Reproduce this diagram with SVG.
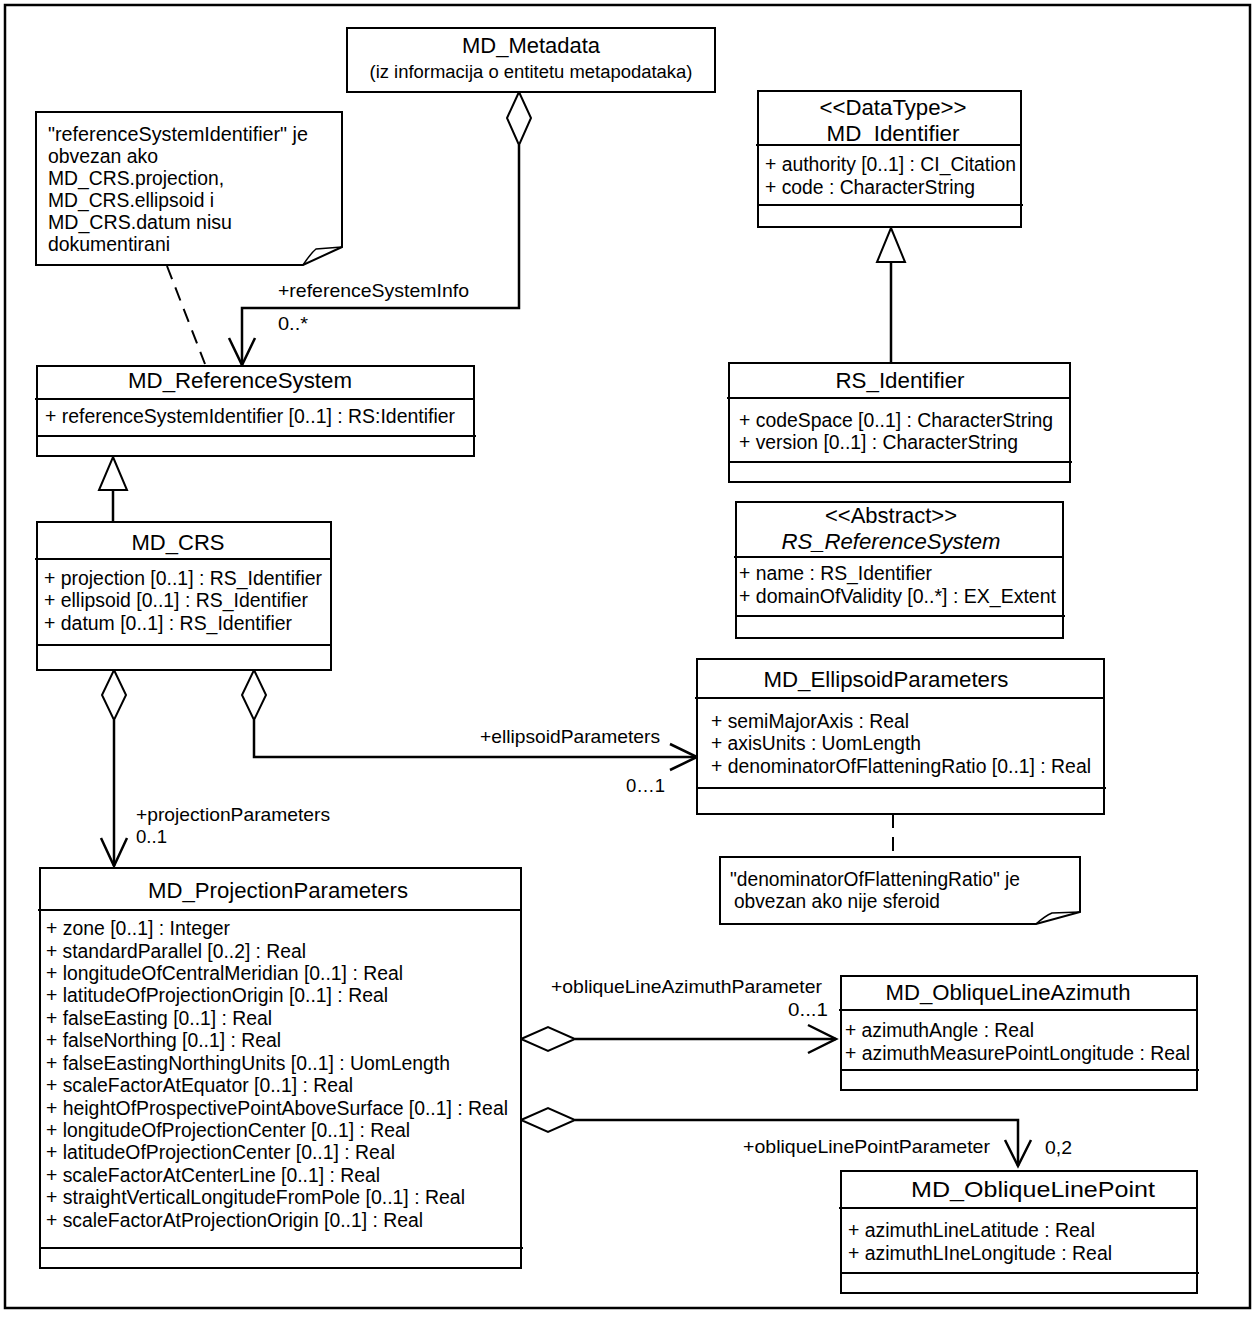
<svg xmlns="http://www.w3.org/2000/svg" width="1257" height="1317" viewBox="0 0 1257 1317">
<style>
.box{fill:#fff;stroke:#000;stroke-width:2}
.sep{stroke:#000;stroke-width:2}
.t{font-family:"Liberation Sans",Arial,sans-serif;fill:#000}
.title{font-size:22px;text-anchor:middle}
.attr{font-size:19.5px}
.lbl{font-size:19px}
.con{fill:none;stroke:#000;stroke-width:2.5}
.dash{fill:none;stroke:#000;stroke-width:2;stroke-dasharray:14,9}
.dia{fill:#fff;stroke:#000;stroke-width:2}
.tri{fill:#fff;stroke:#000;stroke-width:2}
</style>
<rect x="5" y="5" width="1245" height="1303" fill="#fff" stroke="#000" stroke-width="2.5"/>

<g id="connectors">
  <path class="dash" d="M167,266 L205,364"/>
  <path class="con" d="M519,145 V308 H242 V365"/>
  <path class="con" d="M229,338 L242,365 L255,338"/>
  <polygon class="dia" points="519,92 531,118 519,145 507,118"/>
  <text class="t lbl" x="278" y="297" textLength="191" lengthAdjust="spacingAndGlyphs">+referenceSystemInfo</text>
  <text class="t lbl" x="278" y="330" textLength="30" lengthAdjust="spacingAndGlyphs">0..*</text>
  <path class="con" d="M113,490 V522"/>
  <polygon class="tri" points="113,457 127,490 99,490"/>
  <path class="con" d="M891,262 V363"/>
  <polygon class="tri" points="891,228 905,262 877,262"/>
  <path class="con" d="M114,720 V866"/>
  <path class="con" d="M101,838 L114,866 L127,838"/>
  <polygon class="dia" points="114,670 126,695 114,720 102,695"/>
  <text class="t lbl" x="136" y="821" textLength="194" lengthAdjust="spacingAndGlyphs">+projectionParameters</text>
  <text class="t lbl" x="136" y="843" textLength="31" lengthAdjust="spacingAndGlyphs">0..1</text>
  <path class="con" d="M254,720 V757 H697"/>
  <path class="con" d="M670,744 L697,757 L670,770"/>
  <polygon class="dia" points="254,670 266,695 254,720 242,695"/>
  <text class="t lbl" x="480" y="743" textLength="180" lengthAdjust="spacingAndGlyphs">+ellipsoidParameters</text>
  <text class="t lbl" x="626" y="792" textLength="39" lengthAdjust="spacingAndGlyphs">0…1</text>
  <path class="dash" d="M893,814 V857"/>
  <path class="con" d="M575,1039 H836"/>
  <path class="con" d="M808,1025 L836,1039 L808,1053"/>
  <polygon class="dia" points="521,1039 548,1027 575,1039 548,1051"/>
  <text class="t lbl" x="551" y="993" textLength="271" lengthAdjust="spacingAndGlyphs">+obliqueLineAzimuthParameter</text>
  <text class="t lbl" x="788" y="1016" textLength="40" lengthAdjust="spacingAndGlyphs">0...1</text>
  <path class="con" d="M575,1120 H1018 V1166"/>
  <path class="con" d="M1005,1140 L1018,1166 L1031,1140"/>
  <polygon class="dia" points="521,1120 548,1108 575,1120 548,1132"/>
  <text class="t lbl" x="743" y="1153" textLength="247" lengthAdjust="spacingAndGlyphs">+obliqueLinePointParameter</text>
  <text class="t lbl" x="1045" y="1154" textLength="27" lengthAdjust="spacingAndGlyphs">0,2</text>
</g>

<g id="MD_Metadata">
  <rect class="box" x="347" y="28" width="368" height="64"/>
  <text class="t title" x="531" y="53" textLength="138" lengthAdjust="spacingAndGlyphs">MD_Metadata</text>
  <text class="t" x="531" y="78" font-size="18" text-anchor="middle" textLength="323" lengthAdjust="spacingAndGlyphs">(iz informacija o entitetu metapodataka)</text>
</g>

<g id="note_referenceSystem">
  <path class="box" d="M36,112 H342 V247 L303,265 H36 Z"/>
  <path fill="none" stroke="#000" stroke-width="1.5" d="M303,265 Q311,253 316,249 L342,247"/>
  <g class="t" font-size="19.5">
    <text x="48" y="141" textLength="260" lengthAdjust="spacingAndGlyphs">"referenceSystemIdentifier"  je</text>
    <text x="48" y="163" textLength="110" lengthAdjust="spacingAndGlyphs">obvezan ako</text>
    <text x="48" y="185" textLength="176" lengthAdjust="spacingAndGlyphs">MD_CRS.projection,</text>
    <text x="48" y="207" textLength="166" lengthAdjust="spacingAndGlyphs">MD_CRS.ellipsoid i</text>
    <text x="48" y="229" textLength="184" lengthAdjust="spacingAndGlyphs">MD_CRS.datum nisu</text>
    <text x="48" y="251" textLength="122" lengthAdjust="spacingAndGlyphs">dokumentirani</text>
  </g>
</g>

<g id="MD_Identifier">
  <rect class="box" x="758" y="91" width="263" height="136"/>
  <line class="sep" x1="756" y1="145" x2="1021" y2="145"/>
  <line class="sep" x1="758" y1="205" x2="1023" y2="205"/>
  <text class="t title" x="893" y="115" textLength="147" lengthAdjust="spacingAndGlyphs">&lt;&lt;DataType&gt;&gt;</text>
  <text class="t title" x="893" y="141" textLength="133" lengthAdjust="spacingAndGlyphs">MD_Identifier</text>
  <text class="t attr" x="765" y="171" textLength="251" lengthAdjust="spacingAndGlyphs">+ authority [0..1] : CI_Citation</text>
  <text class="t attr" x="765" y="194" textLength="210" lengthAdjust="spacingAndGlyphs">+ code : CharacterString</text>
</g>

<g id="MD_ReferenceSystem">
  <rect class="box" x="37" y="366" width="437" height="90"/>
  <line class="sep" x1="35" y1="399" x2="474" y2="399"/>
  <line class="sep" x1="37" y1="436" x2="476" y2="436"/>
  <text class="t title" x="240" y="388" textLength="224" lengthAdjust="spacingAndGlyphs">MD_ReferenceSystem</text>
  <text class="t attr" x="45" y="423" textLength="410" lengthAdjust="spacingAndGlyphs">+ referenceSystemIdentifier [0..1] : RS:Identifier</text>
</g>

<g id="RS_Identifier">
  <rect class="box" x="729" y="363" width="341" height="119"/>
  <line class="sep" x1="727" y1="398" x2="1070" y2="398"/>
  <line class="sep" x1="729" y1="462" x2="1072" y2="462"/>
  <text class="t title" x="900" y="388" textLength="129" lengthAdjust="spacingAndGlyphs">RS_Identifier</text>
  <text class="t attr" x="739" y="427" textLength="314" lengthAdjust="spacingAndGlyphs">+ codeSpace [0..1] : CharacterString</text>
  <text class="t attr" x="739" y="449" textLength="279" lengthAdjust="spacingAndGlyphs">+ version [0..1] : CharacterString</text>
</g>

<g id="RS_ReferenceSystem">
  <rect class="box" x="736" y="502" width="327" height="136"/>
  <line class="sep" x1="734" y1="557" x2="1063" y2="557"/>
  <line class="sep" x1="736" y1="616" x2="1065" y2="616"/>
  <text class="t title" x="891" y="523" textLength="132" lengthAdjust="spacingAndGlyphs">&lt;&lt;Abstract&gt;&gt;</text>
  <text class="t title" x="891" y="549" font-style="italic" textLength="219" lengthAdjust="spacingAndGlyphs">RS_ReferenceSystem</text>
  <text class="t attr" x="739" y="580" textLength="193" lengthAdjust="spacingAndGlyphs">+ name : RS_Identifier</text>
  <text class="t attr" x="739" y="603" textLength="317" lengthAdjust="spacingAndGlyphs">+ domainOfValidity [0..*] : EX_Extent</text>
</g>

<g id="MD_CRS">
  <rect class="box" x="37" y="522" width="294" height="148"/>
  <line class="sep" x1="35" y1="559" x2="331" y2="559"/>
  <line class="sep" x1="37" y1="645" x2="331" y2="645"/>
  <text class="t title" x="178" y="550" textLength="93" lengthAdjust="spacingAndGlyphs">MD_CRS</text>
  <text class="t attr" x="44" y="585" textLength="278" lengthAdjust="spacingAndGlyphs">+ projection [0..1] : RS_Identifier</text>
  <text class="t attr" x="44" y="607" textLength="264" lengthAdjust="spacingAndGlyphs">+ ellipsoid [0..1] : RS_Identifier</text>
  <text class="t attr" x="44" y="630" textLength="248" lengthAdjust="spacingAndGlyphs">+ datum [0..1] : RS_Identifier</text>
</g>

<g id="MD_EllipsoidParameters">
  <rect class="box" x="697" y="659" width="407" height="155"/>
  <line class="sep" x1="695" y1="698" x2="1104" y2="698"/>
  <line class="sep" x1="697" y1="788" x2="1106" y2="788"/>
  <text class="t title" x="886" y="687" textLength="245" lengthAdjust="spacingAndGlyphs">MD_EllipsoidParameters</text>
  <text class="t attr" x="711" y="728" textLength="198" lengthAdjust="spacingAndGlyphs">+ semiMajorAxis : Real</text>
  <text class="t attr" x="711" y="750" textLength="210" lengthAdjust="spacingAndGlyphs">+ axisUnits : UomLength</text>
  <text class="t attr" x="711" y="773" textLength="380" lengthAdjust="spacingAndGlyphs">+ denominatorOfFlatteningRatio [0..1] : Real</text>
</g>

<g id="note_ellipsoid">
  <path class="box" d="M720,857 H1080 V912 L1036,924 H720 Z"/>
  <path fill="none" stroke="#000" stroke-width="1.5" d="M1036,924 Q1045,916 1052,913 L1080,912"/>
  <text class="t" font-size="19.5" x="730" y="886" textLength="290" lengthAdjust="spacingAndGlyphs">"denominatorOfFlatteningRatio" je</text>
  <text class="t" font-size="19.5" x="734" y="908" textLength="206" lengthAdjust="spacingAndGlyphs">obvezan ako nije sferoid</text>
</g>

<g id="MD_ProjectionParameters">
  <rect class="box" x="40" y="868" width="481" height="400"/>
  <line class="sep" x1="38" y1="910" x2="521" y2="910"/>
  <line class="sep" x1="40" y1="1248" x2="523" y2="1248"/>
  <text class="t title" x="278" y="898" textLength="260" lengthAdjust="spacingAndGlyphs">MD_ProjectionParameters</text>
  <g class="t attr">
    <text x="46" y="935" textLength="184" lengthAdjust="spacingAndGlyphs">+ zone [0..1] : Integer</text>
    <text x="46" y="958" textLength="260" lengthAdjust="spacingAndGlyphs">+ standardParallel [0..2] : Real</text>
    <text x="46" y="980" textLength="357" lengthAdjust="spacingAndGlyphs">+ longitudeOfCentralMeridian [0..1] : Real</text>
    <text x="46" y="1002" textLength="342" lengthAdjust="spacingAndGlyphs">+ latitudeOfProjectionOrigin [0..1] : Real</text>
    <text x="46" y="1025" textLength="226" lengthAdjust="spacingAndGlyphs">+ falseEasting [0..1] : Real</text>
    <text x="46" y="1047" textLength="235" lengthAdjust="spacingAndGlyphs">+ falseNorthing [0..1] : Real</text>
    <text x="46" y="1070" textLength="404" lengthAdjust="spacingAndGlyphs">+ falseEastingNorthingUnits [0..1] : UomLength</text>
    <text x="46" y="1092" textLength="307" lengthAdjust="spacingAndGlyphs">+ scaleFactorAtEquator [0..1] : Real</text>
    <text x="46" y="1115" textLength="462" lengthAdjust="spacingAndGlyphs">+ heightOfProspectivePointAboveSurface [0..1] : Real</text>
    <text x="46" y="1137" textLength="364" lengthAdjust="spacingAndGlyphs">+ longitudeOfProjectionCenter [0..1] : Real</text>
    <text x="46" y="1159" textLength="349" lengthAdjust="spacingAndGlyphs">+ latitudeOfProjectionCenter [0..1] : Real</text>
    <text x="46" y="1182" textLength="334" lengthAdjust="spacingAndGlyphs">+ scaleFactorAtCenterLine [0..1] : Real</text>
    <text x="46" y="1204" textLength="419" lengthAdjust="spacingAndGlyphs">+ straightVerticalLongitudeFromPole [0..1] : Real</text>
    <text x="46" y="1227" textLength="377" lengthAdjust="spacingAndGlyphs">+ scaleFactorAtProjectionOrigin [0..1] : Real</text>
  </g>
</g>

<g id="MD_ObliqueLineAzimuth">
  <rect class="box" x="841" y="976" width="356" height="114"/>
  <line class="sep" x1="839" y1="1010" x2="1197" y2="1010"/>
  <line class="sep" x1="841" y1="1070" x2="1199" y2="1070"/>
  <text class="t title" x="1008" y="1000" textLength="245" lengthAdjust="spacingAndGlyphs">MD_ObliqueLineAzimuth</text>
  <text class="t attr" x="845" y="1037" textLength="189" lengthAdjust="spacingAndGlyphs">+ azimuthAngle : Real</text>
  <text class="t attr" x="845" y="1060" textLength="345" lengthAdjust="spacingAndGlyphs">+ azimuthMeasurePointLongitude : Real</text>
</g>

<g id="MD_ObliqueLinePoint">
  <rect class="box" x="841" y="1171" width="356" height="122"/>
  <line class="sep" x1="839" y1="1208" x2="1197" y2="1208"/>
  <line class="sep" x1="841" y1="1273" x2="1199" y2="1273"/>
  <text class="t title" x="1033" y="1197" textLength="244" lengthAdjust="spacingAndGlyphs">MD_ObliqueLinePoint</text>
  <text class="t attr" x="848" y="1237" textLength="247" lengthAdjust="spacingAndGlyphs">+ azimuthLineLatitude : Real</text>
  <text class="t attr" x="848" y="1260" textLength="264" lengthAdjust="spacingAndGlyphs">+ azimuthLIneLongitude : Real</text>
</g>
</svg>
